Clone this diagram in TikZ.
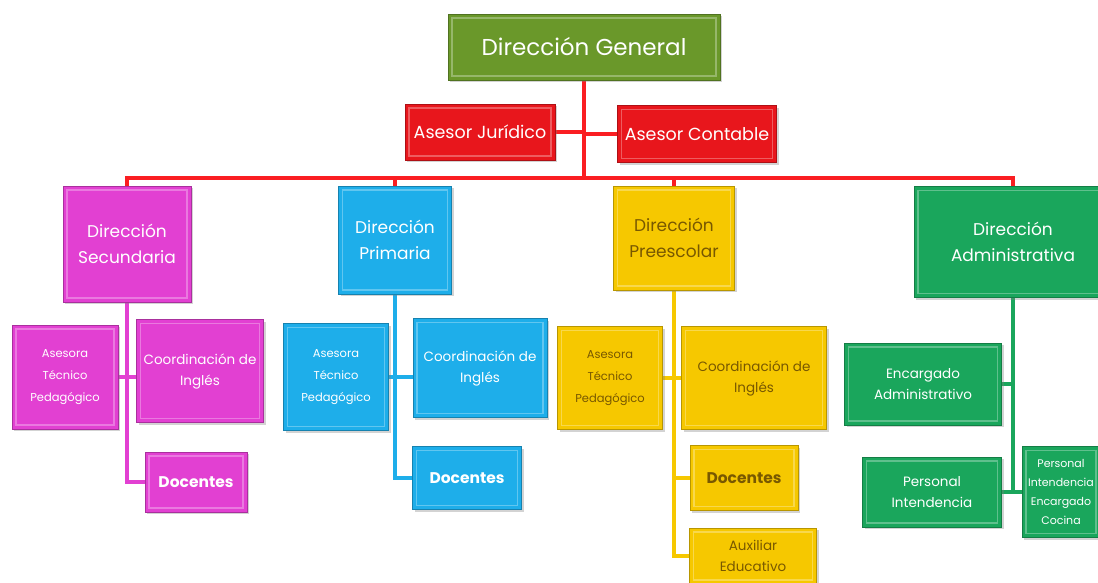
\documentclass[tikz,border=0pt]{standalone}
\usepackage{fontspec}
\setmainfont{Poppins}
\usetikzlibrary{shadows,backgrounds}

\definecolor{dgGreen}{RGB}{106,152,42}
\definecolor{advRed}{RGB}{232,22,28}
\definecolor{lineRed}{RGB}{250,30,34}
\definecolor{secMag}{RGB}{226,64,210}
\definecolor{priCyan}{RGB}{30,174,234}
\definecolor{preYel}{RGB}{246,200,0}
\definecolor{admGreen}{RGB}{26,166,92}
\definecolor{preText}{RGB}{120,88,0}

\begin{document}
\begin{tikzpicture}[x=1pt, y=-1pt,
  every node/.style={text=white, align=center, inner sep=2pt},
  box/.style={draw=#1!75!black, fill=#1, line width=0.6pt,
    drop shadow={shadow xshift=2pt, shadow yshift=-2pt, opacity=0.35},
    path picture={\draw[white, opacity=0.3, line width=1.2pt]
      ([shift={(4pt,-4pt)}]path picture bounding box.north west) rectangle
      ([shift={(-4pt,4pt)}]path picture bounding box.south east);}},
  big/.style={font=\fontsize{17}{26}\selectfont},
  small/.style={font=\fontsize{11.5}{22}\selectfont},
  mid/.style={font=\fontsize{13.5}{21}\selectfont},
  bold/.style={font=\fontsize{15.5}{18}\selectfont\bfseries},
  link/.style={draw=#1, line width=4.5pt, line join=miter}]
  \useasboundingbox (0,0) rectangle (1098,582);

  % top level
  \node[box=dgGreen, minimum width=272pt, minimum height=66pt, font=\fontsize{23}{27}\selectfont] (dg) at (584,47) {Dirección General};
  \node[box=advRed, font=\fontsize{17.5}{21}\selectfont, minimum width=150pt, minimum height=56pt] (jur) at (480,132) {Asesor Jurídico};
  \node[box=advRed, font=\fontsize{17.5}{21}\selectfont, minimum width=159pt, minimum height=57pt] (cont) at (697,134) {Asesor Contable};

  % directions
  \node[box=secMag, big, minimum width=128pt, minimum height=116pt] (sec) at (127,244) {Dirección\\Secundaria};
  \node[box=priCyan, big, minimum width=113pt, minimum height=108pt] (pri) at (395,240) {Dirección\\Primaria};
  \node[box=preYel, big, text=preText, minimum width=121pt, minimum height=104pt] (pre) at (674,238) {Dirección\\Preescolar};
  \node[box=admGreen, big, minimum width=198pt, minimum height=111pt] (adm) at (1013,242) {Dirección\\Administrativa};

  % secundaria
  \node[box=secMag, small, minimum width=106pt, minimum height=104pt] (ase1) at (65,377) {Asesora\\Técnico\\Pedagógico};
  \node[box=secMag, mid, minimum width=127pt, minimum height=103pt] (coo1) at (200,371) {Coordinación de\\Inglés};
  \node[box=secMag, bold, minimum width=102pt, minimum height=60pt] (doc1) at (196,482) {Docentes};

  % primaria
  \node[box=priCyan, small, minimum width=105pt, minimum height=107pt] (ase2) at (336,377) {Asesora\\Técnico\\Pedagógico};
  \node[box=priCyan, mid, minimum width=134pt, minimum height=99pt] (coo2) at (480,368) {Coordinación de\\Inglés};
  \node[box=priCyan, bold, minimum width=109pt, minimum height=63pt] (doc2) at (467,478) {Docentes};

  % preescolar
  \node[box=preYel, small, text=preText, minimum width=105pt, minimum height=103pt] (ase3) at (610,378) {Asesora\\Técnico\\Pedagógico};
  \node[box=preYel, mid, text=preText, minimum width=145pt, minimum height=103pt] (coo3) at (754,378) {Coordinación de\\Inglés};
  \node[box=preYel, bold, text=preText, minimum width=108pt, minimum height=65pt] (doc3) at (744,478) {Docentes};
  \node[box=preYel, mid, text=preText, minimum width=127pt, minimum height=56pt] (aux3) at (753,556) {Auxiliar\\Educativo};

  % administrativa
  \node[box=admGreen, mid, minimum width=157pt, minimum height=82pt] (enc) at (923,384) {Encargado\\Administrativo};
  \node[box=admGreen, mid, minimum width=139pt, minimum height=70pt] (pint) at (932,492) {Personal\\Intendencia};
  \node[box=admGreen, font=\fontsize{11}{19}\selectfont, inner sep=0pt, minimum width=78pt, minimum height=91pt] (coc) at (1061,492) {Personal\\Intendencia\\Encargado\\Cocina};

  \begin{scope}[on background layer]
    \coordinate (bar) at (584,178);
    \draw[link=lineRed] (dg.south) -- (dg.south |- bar);
    \draw[link=lineRed] (jur.east) -- (jur.east -| dg.south);
    \draw[link=lineRed] (cont.west) -- (cont.west -| dg.south);
    \draw[link=lineRed] (sec.north) -- (sec.north |- bar) -- (adm.north |- bar) -- (adm.north);
    \draw[link=lineRed] (pri.north |- bar) -- (pri.north);
    \draw[link=lineRed] (pre.north |- bar) -- (pre.north);
    % branches
    \draw[link=secMag] (sec.south) -- (sec.south |- doc1.west) -- (doc1.west);
    \draw[link=secMag] (ase1.east) -- (ase1.east -| coo1.west);
    \draw[link=priCyan] (pri.south) -- (pri.south |- doc2.west) -- (doc2.west);
    \draw[link=priCyan] (ase2.east) -- (ase2.east -| coo2.west);
    \draw[link=preYel] (pre.south) -- (pre.south |- aux3.west) -- (aux3.west);
    \draw[link=preYel] (ase3.east) -- (ase3.east -| coo3.west);
    \draw[link=preYel] (pre.south |- doc3.west) -- (doc3.west);
    \draw[link=admGreen] (adm.south) -- (adm.south |- pint.east);
    \draw[link=admGreen] (enc.east) -- (enc.east -| adm.south);
    \draw[link=admGreen] (pint.east) -- (coc.west);
  \end{scope}
\end{tikzpicture}
\end{document}
